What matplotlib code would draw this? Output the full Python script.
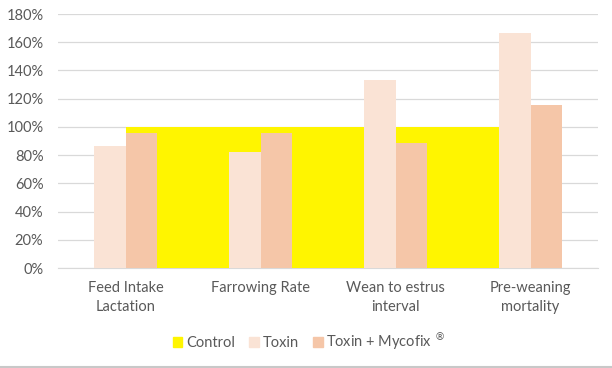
import numpy as np
import matplotlib.pyplot as plt
from matplotlib.patches import Patch
from matplotlib.lines import Line2D

plt.rcParams['font.family'] = ['Lato', 'DejaVu Sans']

categories = ['Feed Intake\nLactation', 'Farrowing Rate', 'Wean to estrus\ninterval', 'Pre-weaning\nmortality']
control = [1.00, 1.00, 1.00, 1.00]
toxin = [0.865, 0.823, 1.33, 1.663]
toxin_mycofix = [0.96, 0.96, 0.885, 1.152]
yticks = np.arange(0, 1.81, 0.2)

c_control = '#FFF500'
c_toxin = '#FAE3D5'
c_myco = '#F5C6A8'
txt = '#595959'

fig = plt.figure(figsize=(6.12, 3.68), dpi=100)
ax = fig.add_axes([58 / 612, 1 - 268 / 368, 540 / 612, 254 / 368])

x = np.arange(len(categories))
w = 0.237

# control drawn as an area between category centres (excel combo style)
ax.fill_between(x, 0, control, color=c_control, lw=0, zorder=2)
ax.bar(x - w / 2, toxin, w, color=c_toxin, zorder=3)
ax.bar(x + w / 2, toxin_mycofix, w, color=c_myco, zorder=3)

ax.set_xlim(-0.5, 3.5)
ax.set_ylim(0, 1.8)
ax.set_yticks(yticks)
ax.set_yticklabels([f'{v * 100:.0f}%' for v in yticks])
ax.set_xticks(x)
ax.set_xticklabels(categories, linespacing=1.45)
ax.grid(axis='y', color='#D9D9D9', lw=0.9, zorder=0)
ax.set_axisbelow(True)
for s in ['top', 'right', 'left']:
    ax.spines[s].set_visible(False)
ax.spines['bottom'].set_color('#D9D9D9')
ax.spines['bottom'].set_zorder(1)
ax.tick_params(axis='y', length=0, pad=10.5, labelsize=10.5, labelcolor=txt)
ax.tick_params(axis='x', length=0, pad=9.5, labelsize=10.5, labelcolor=txt)

handles = [Patch(color=c_control), Patch(color=c_toxin), Patch(color=c_myco)]
labels = ['Control', 'Toxin', 'Toxin + Mycofix $^{\u00ae}$']
fig.legend(handles, labels, loc='center', bbox_to_anchor=(309 / 612, 1 - 341 / 368), ncol=3,
           frameon=False, fontsize=10.5, labelcolor=txt, handlelength=0.65, handleheight=0.6,
           handletextpad=0.25, columnspacing=1.0)

fig.add_artist(Line2D([0, 1], [1.5 / 368, 1.5 / 368], color='#C8C8C8', lw=1.5,
                      transform=fig.transFigure))

fig.savefig('out.png', dpi=100)
